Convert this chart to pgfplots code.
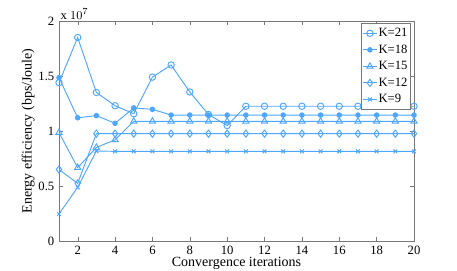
\documentclass[border=0pt]{standalone}
\usepackage{fontspec}
\setmainfont{Liberation Serif}
\usepackage{pgfplots}
\pgfplotsset{compat=1.18}
\definecolor{lb}{RGB}{77,166,255}
\definecolor{ax}{RGB}{120,120,120}
\begin{document}
\begin{tikzpicture}
\path[use as bounding box] (-44.25pt,-22.5pt) rectangle (298.5pt,180.75pt);
\begin{axis}[
  name=main,
  at={(0,0)}, anchor=south west,
  scale only axis, width=266.25pt, height=165pt,
  xmin=1, xmax=20, ymin=0, ymax=2,
  xtick={2,4,...,20},
  ytick={0,0.5,1,1.5,2},
  yticklabels={0,0.5,1,1.5,2},
  scaled ticks=false,
  /pgf/number format/assume math mode=true,
  tick label style={font=\fontsize{9.5}{10}\selectfont, black},
  label style={font=\fontsize{10.5}{12}\selectfont},
  xlabel={Convergence iterations},
  ylabel={Energy efficiency (bps/Joule)},
  xlabel style={yshift=5pt},
  ylabel style={yshift=-4pt},
  axis line style={ax},
  tick style={ax},
  major tick length=3pt,
  tick align=inside,
  legend style={at={(0.99,0.99)}, anchor=north east, draw=ax, font=\fontsize{9.5}{10}\selectfont, inner xsep=1pt, inner ysep=1.5pt, row sep=0.6pt, legend cell align=left,
    nodes={inner xsep=1pt}},
  legend image code/.code={\draw[mark repeat=2,mark phase=2] plot coordinates {(0cm,0cm)(0.18cm,0cm)(0.36cm,0cm)};},
]
\addplot[lb, line width=0.7pt, mark=o, mark size=2.4pt, mark options={solid}] coordinates {(1,1.44)(2,1.85)(3,1.35)(4,1.23)(5,1.157)(6,1.49)(7,1.60)(8,1.355)(9,1.15)(10,1.05)(11,1.225)(12,1.225)(13,1.225)(14,1.225)(15,1.225)(16,1.225)(17,1.225)(18,1.225)(19,1.225)(20,1.225)};
\addlegendentry{K=21}
\addplot[lb, line width=0.7pt, mark=*, mark size=1.7pt, mark options={solid, fill=lb}] coordinates {(1,1.485)(2,1.12)(3,1.14)(4,1.07)(5,1.21)(6,1.197)(7,1.145)(8,1.145)(9,1.145)(10,1.145)(11,1.145)(12,1.145)(13,1.145)(14,1.145)(15,1.145)(16,1.145)(17,1.145)(18,1.145)(19,1.145)(20,1.145)};
\addlegendentry{K=18}
\addplot[lb, line width=0.7pt, mark=triangle, mark size=2.7pt, mark options={solid}] coordinates {(1,0.985)(2,0.667)(3,0.85)(4,0.92)(5,1.088)(6,1.088)(7,1.088)(8,1.088)(9,1.088)(10,1.088)(11,1.088)(12,1.088)(13,1.088)(14,1.088)(15,1.088)(16,1.088)(17,1.088)(18,1.088)(19,1.088)(20,1.088)};
\addlegendentry{K=15}
\addplot[lb, line width=0.7pt, mark=diamond, mark size=2.7pt, mark options={solid}] coordinates {(1,0.65)(2,0.524)(3,0.976)(4,0.976)(5,0.976)(6,0.976)(7,0.976)(8,0.976)(9,0.976)(10,0.976)(11,0.976)(12,0.976)(13,0.976)(14,0.976)(15,0.976)(16,0.976)(17,0.976)(18,0.976)(19,0.976)(20,0.976)};
\addlegendentry{K=12}
\addplot[lb, line width=0.7pt, mark=x, mark size=2pt, mark options={solid}] coordinates {(1,0.245)(2,0.488)(3,0.818)(4,0.815)(5,0.815)(6,0.815)(7,0.815)(8,0.815)(9,0.815)(10,0.815)(11,0.815)(12,0.815)(13,0.815)(14,0.815)(15,0.815)(16,0.815)(17,0.815)(18,0.815)(19,0.815)(20,0.815)};
\addlegendentry{K=9}
\end{axis}
\node[anchor=south west, font=\fontsize{9.5}{10}\selectfont, inner sep=0pt, xshift=1pt, yshift=1pt] at (main.north west) {x $10^{7}$};
\end{tikzpicture}
\end{document}
